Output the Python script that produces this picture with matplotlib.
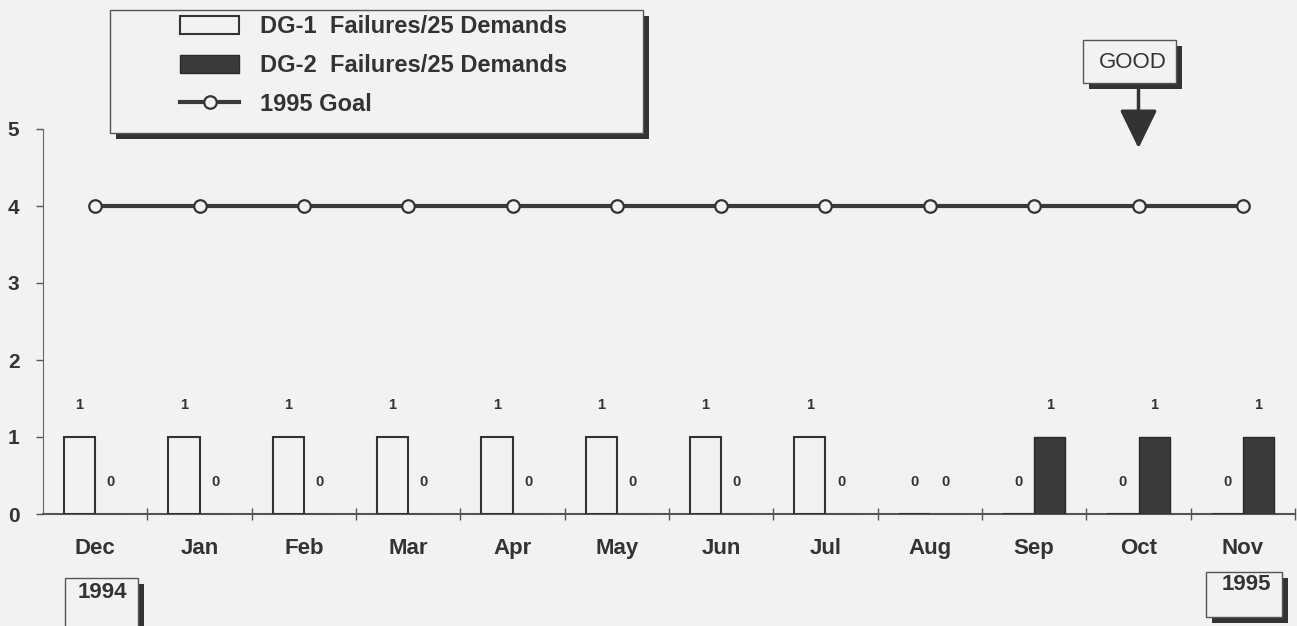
import numpy as np
import matplotlib
matplotlib.use('Agg')
from matplotlib import pyplot as plt
import matplotlib.patheffects as pe
from matplotlib.patches import Rectangle

plt.rcParams['font.family'] = ['Liberation Sans', 'DejaVu Sans']
plt.rcParams['font.weight'] = 'bold'

# Data
months = ['Dec', 'Jan', 'Feb', 'Mar', 'Apr', 'May', 'Jun', 'Jul', 'Aug', 'Sep', 'Oct', 'Nov']
dg1_failures = [1, 1, 1, 1, 1, 1, 1, 1, 0, 0, 0, 0]
dg2_failures = [0, 0, 0, 0, 0, 0, 0, 0, 0, 1, 1, 1]
goal_1995 = [4, 4, 4, 4, 4, 4, 4, 4, 4, 4, 4, 4]
y_ticks = [0, 1, 2, 3, 4, 5]

W, H = 1297, 626
INK = '#333333'
BG = '#f2f2f2'
DARK = '#3a3a3a'


def fx(px):
    return px / W


def fy(py):
    return 1 - py / H


def shadow_box(x0, y0, x1, y1):
    # box given in figure pixels (top-left origin), with a drop shadow
    r = Rectangle((fx(x0), fy(y1)), fx(x1) - fx(x0), fy(y0) - fy(y1),
                  transform=fig.transFigure, facecolor=BG, edgecolor='#555555',
                  lw=1.0, zorder=1)
    r.set_path_effects([pe.SimplePatchShadow(offset=(4, -4), shadow_rgbFace=INK, alpha=1),
                        pe.Normal()])
    fig.add_artist(r)


fig = plt.figure(figsize=(W / 100, H / 100), dpi=100)
fig.patch.set_facecolor(BG)
ax = fig.add_axes([fx(43), fy(514), fx(1295) - fx(43), fy(129) - fy(514)])
ax.set_facecolor(BG)

x = np.arange(len(months))
w = 0.3
b1 = ax.bar(x - w / 2, dg1_failures, w, facecolor=BG, edgecolor=INK, lw=1.5,
            zorder=3, label='DG-1  Failures/25 Demands')
b2 = ax.bar(x + w / 2, dg2_failures, w, facecolor=DARK, edgecolor='#2a2a2a', lw=1,
            zorder=3, label='DG-2  Failures/25 Demands')
ln, = ax.plot(x, goal_1995, color=DARK, lw=3, marker='o', ms=9, mfc=BG, mec=INK,
              mew=1.6, zorder=4, label='1995 Goal')

# value labels
for i in range(len(months)):
    ax.text(x[i] - w / 2, dg1_failures[i] + 0.41, str(dg1_failures[i]),
            ha='center', va='center', fontsize=10.5, color=INK)
    ax.text(x[i] + w / 2, dg2_failures[i] + 0.41, str(dg2_failures[i]),
            ha='center', va='center', fontsize=10.5, color=INK)

ax.set_xlim(-0.5, len(months) - 0.5)
ax.set_ylim(0, 5)
ax.set_yticks(y_ticks)
ax.set_xticks(x, months)
ax.set_xticks(np.arange(0.5, len(months), 1), minor=True)
ax.tick_params(axis='x', which='major', length=0, pad=17, labelsize=16, labelcolor=INK)
ax.tick_params(axis='x', which='minor', direction='inout', length=8, width=1, color='#555555')
ax.tick_params(axis='y', direction='out', length=5, width=1, color='#555555',
               pad=12, labelsize=15, labelcolor=INK)
ax.spines['top'].set_visible(False)
ax.spines['right'].set_visible(False)
ax.spines['left'].set_color('#666666')
ax.spines['bottom'].set_color('#555555')
ax.spines['bottom'].set_linewidth(1.5)

# legend with shadowed frame
shadow_box(110, 10, 643, 133)
fig.legend(handles=[b1, b2, ln], loc='upper left', bbox_to_anchor=(fx(180), fy(15)),
           frameon=False, fontsize=17, handlelength=2.5, handleheight=0.8,
           handletextpad=0.9, labelspacing=0.68, borderpad=0, borderaxespad=0,
           labelcolor=INK)

# GOOD marker with arrow
shadow_box(1083, 40, 1176, 83)
fig.text(fx(1133), fy(62), 'GOOD', ha='center', va='center', fontsize=16,
         fontweight='normal', color=INK)
ax.annotate('', xy=(10, 4.75), xytext=(10, 5.6), annotation_clip=False,
            arrowprops=dict(arrowstyle='-|>,head_length=1.19,head_width=0.58',
                            mutation_scale=20, lw=2.5, color=INK,
                            shrinkA=0, shrinkB=0))

# year boxes
shadow_box(65, 578, 138, 628)
fig.text(fx(102), fy(592), '1994', ha='center', va='center', fontsize=16, color=INK)
shadow_box(1206, 572, 1282, 617)
fig.text(fx(1246), fy(585), '1995', ha='center', va='center', fontsize=16, color=INK)

plt.savefig('out.png', dpi=100, facecolor=fig.get_facecolor())
